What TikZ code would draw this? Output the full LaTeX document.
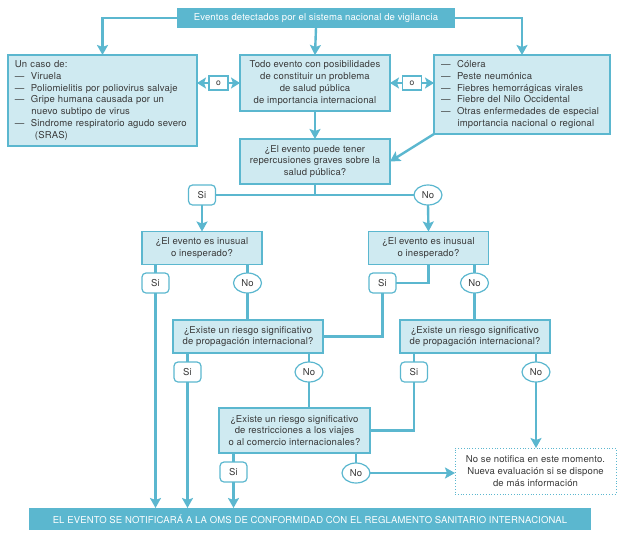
\documentclass[tikz,border=0pt]{standalone}
\usepackage{fontspec}
\setmainfont[LetterSpace=1.5]{TeX Gyre Heros}
\usetikzlibrary{arrows.meta,shapes.geometric,calc}
\definecolor{cdark}{HTML}{5BB7CF}
\definecolor{clight}{HTML}{CFEAF1}
\definecolor{cline}{HTML}{5BB7CF}
\definecolor{ctext}{HTML}{3A3A3A}
\newcommand{\dsh}{\makebox[16pt][l]{---}}
\begin{document}
\begin{tikzpicture}[x=1pt,y=-1pt,
  font=\fontsize{9.5}{11.8}\selectfont,
  every node/.style={inner sep=0pt,outer sep=0pt,text=ctext},
  hbox/.style={fill=cdark,draw=none,text=white,minimum height=#1},
  qbox/.style={fill=clight,draw=cline,line width=1.2pt,align=center},
  sibox/.style={draw=cline,fill=white,line width=1.2pt,rounded corners=4pt,minimum width=27pt,minimum height=20pt},
  nobox/.style={draw=cline,fill=white,line width=1.2pt,ellipse,minimum width=28pt,minimum height=20pt},
  conn/.style={draw=cline,line width=2.4pt},
  arr/.style={conn,-{Stealth[length=10pt,width=11pt,inset=2pt]}},
  darr/.style={conn,{Stealth[length=9pt,width=11pt,inset=2pt]}-{Stealth[length=9pt,width=11pt,inset=2pt]}},
  obox/.style={draw=cline,fill=white,line width=1.2pt,minimum width=19pt,minimum height=14pt,font=\fontsize{8.5}{10}\selectfont}
]
\useasboundingbox (0,0) rectangle (619,536);

\node[hbox=20pt,minimum width=278pt] (top) at (316,18) {Eventos detectados por el sistema nacional de vigilancia};

\node[qbox,minimum width=189pt,minimum height=91pt,text width=175pt,align=left] (A) at (102.5,100.5)
 {Un caso de:\\\dsh Viruela\\\dsh Poliomielitis por poliovirus salvaje\\\dsh Gripe humana causada por un\\\hspace*{16.5pt}nuevo subtipo de virus\\\dsh Sindrome respiratorio agudo severo\\\hspace*{20pt}(SRAS)};
\node[qbox,minimum width=150pt,minimum height=56pt] (B) at (315,83)
 {Todo evento con posibilidades\\de constituir un problema\\de salud pública\\de importancia internacional};
\node[qbox,minimum width=176pt,minimum height=79pt,text width=162pt,align=left] (C) at (522,94.5)
 {\dsh Cólera\\\dsh Peste neumónica\\\dsh Fiebres hemorrágicas virales\\\dsh Fiebre del Nilo Occidental\\\dsh Otras enfermedades de especial\\\hspace*{16.5pt}importancia nacional o regional};

\node[qbox,minimum width=150pt,minimum height=45pt] (Q1) at (315,161.5)
 {¿El evento puede tener\\repercusiones graves sobre la\\salud pública?};

\node[qbox,minimum width=120pt,minimum height=33pt] (InL) at (202,248)
 {¿El evento es inusual\\o inesperado?};
\node[qbox,minimum width=120pt,minimum height=33pt] (InR) at (428.5,248)
 {¿El evento es inusual\\o inesperado?};

\node[qbox,minimum width=150pt,minimum height=33pt] (PrL) at (248,336.5)
 {¿Existe un riesgo significativo\\de propagación internacional?};
\node[qbox,minimum width=150pt,minimum height=33pt] (PrR) at (475,336.5)
 {¿Existe un riesgo significativo\\de propagación internacional?};

\node[qbox,minimum width=151pt,minimum height=45pt] (Tr) at (294.5,430.5)
 {¿Existe un riesgo significativo\\de restricciones a los viajes\\o al comercio internacionales?};

\node[draw=cline,dotted,line width=0.8pt,fill=white,minimum width=161pt,minimum height=46pt,align=center] (D) at (535.5,471)
 {No se notifica en este momento.\\Nueva evaluación si se dispone\\de más información};

\node[hbox=22pt,minimum width=562pt] (bot) at (310,519)
 {EL EVENTO SE NOTIFICARÁ A LA OMS DE CONFORMIDAD CON EL REGLAMENTO SANITARIO INTERNACIONAL};

% connectors from top
\draw[arr] (top.west) -| (A.north);
\draw[arr] (top.south) -- (B.north);
\draw[arr] (top.east) -| (C.north);

% o connectors
\draw[darr] (B.west -| A.east) -- (B.west);
\node[obox] (o1) at ($(B.west -| A.east)!0.5!(B.west)$) {o};
\draw[darr] (C.west |- B.east) -- (B.east);
\node[obox] (o2) at ($(C.west |- B.east)!0.5!(B.east)$) {o};

\draw[arr] (B.south) -- (Q1.north);
\draw[arr] (C.south west) -- (Q1.east);

% Si / No after Q1
\node[sibox] (s1) at (202,195) {Si};
\node[nobox] (n1) at (428,195) {No};
\draw[conn] (Q1.south) |- (s1.east);
\draw[conn] (Q1.south) |- (n1.west);
\draw[arr] (s1.south) -- (InL.north);
\draw[arr] (n1.south) -- (InR.north);

% InL
\node[sibox] (s2) at (155.5,283) {Si};
\node[nobox] (n2) at (247.5,283) {No};
\draw[conn] (s2.north |- InL.south) -- (s2.north);
\draw[conn] (n2.north |- InL.south) -- (n2.north);
\draw[arr] (s2.south) -- (s2.south |- bot.north);
\draw[conn] (n2.south) -- (n2.south |- PrL.north);

% InR
\node[sibox] (s3) at (382.5,283) {Si};
\node[nobox] (n3) at (474.5,283) {No};
\draw[conn] (InR.south) |- (s3.east);
\draw[conn] (s3.south) |- (PrL.east);
\draw[conn] (n3.north |- InR.south) -- (n3.north);
\draw[conn] (n3.south) -- (n3.south |- PrR.north);

% PrL
\node[sibox] (s4) at (187.5,372) {Si};
\node[nobox] (n4) at (309,372) {No};
\draw[conn] (s4.north |- PrL.south) -- (s4.north);
\draw[conn] (n4.north |- PrL.south) -- (n4.north);
\draw[arr] (s4.south) -- (s4.south |- bot.north);
\draw[conn] (n4.south) -- (n4.south |- Tr.north);

% PrR
\node[sibox] (s5) at (414,372) {Si};
\node[nobox] (n5) at (536,372) {No};
\draw[conn] (s5.north |- PrR.south) -- (s5.north);
\draw[conn] (n5.north |- PrR.south) -- (n5.north);
\draw[conn] (s5.south) |- (Tr.east);
\draw[arr] (n5.south) -- (n5.south |- D.north);

% Tr
\node[sibox] (s6) at (233.5,472) {Si};
\node[nobox] (n6) at (356,473) {No};
\draw[conn] (s6.north |- Tr.south) -- (s6.north);
\draw[conn] (n6.north |- Tr.south) -- (n6.north);
\draw[arr] (s6.south) -- (s6.south |- bot.north);
\draw[arr] (n6.east) -- (n6.east -| D.west);
\end{tikzpicture}
\end{document}
